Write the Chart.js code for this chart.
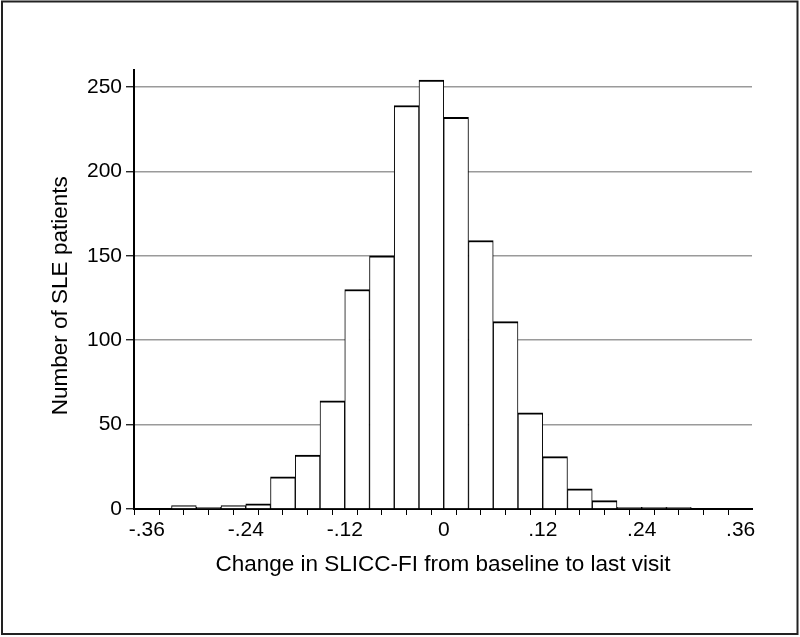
<!DOCTYPE html>
<html>
<head>
<meta charset="utf-8">
<script src="https://cdn.jsdelivr.net/npm/chart.js@4/dist/chart.umd.min.js"></script>
<style>
  html, body { margin: 0; padding: 0; background: #fff; }
  #wrap { width: 800px; height: 637px; }
</style>
</head>
<body>
<div id="wrap"><canvas id="histChart" width="800" height="637"></canvas></div>
<script>
// histogram bins (lower edge, width .03) and patient counts
const binLower = [-0.33, -0.30, -0.27, -0.24, -0.21, -0.18, -0.15, -0.12, -0.09, -0.06, -0.03,
                  0.00, 0.03, 0.06, 0.09, 0.12, 0.15, 0.18, 0.21, 0.24, 0.27];
const binWidth = 0.03;
const patientCounts = [2, 1, 2, 3, 19, 32, 64, 130, 150, 239, 254,
                       232, 159, 111, 57, 31, 12, 5, 1, 1, 1];

const xTickValues = [-0.36, -0.33, -0.30, -0.27, -0.24, -0.21, -0.18, -0.15, -0.12, -0.09, -0.06, -0.03, 0,
                     0.03, 0.06, 0.09, 0.12, 0.15, 0.18, 0.21, 0.24, 0.27, 0.30, 0.33, 0.36];
const xLabelValues = [-0.36, -0.24, -0.12, 0, 0.12, 0.24, 0.36];
const xLabels = ['-.36', '-.24', '-.12', '0', '.12', '.24', '.36'];
const yTickValues = [0, 50, 100, 150, 200, 250];

const FONT = "'Liberation Sans', Arial, Helvetica, sans-serif";

const framePlugin = {
    id: 'frame',
    beforeDraw(chart) {
        const c = chart.ctx;
        c.save();
        c.fillStyle = '#fff';
        c.fillRect(0, 0, chart.width, chart.height);
        c.restore();
    },
    afterDraw(chart) {
        const c = chart.ctx;
        c.save();
        c.strokeStyle = '#222';
        c.lineWidth = 2;
        c.strokeRect(2, 1.5, 795.5, 632.5);
        c.restore();
    }
};

document.addEventListener("DOMContentLoaded", () => {
    const canvas = document.getElementById("histChart");
    const ctx = canvas.getContext("2d");

    new Chart(ctx, {
        type: "bar",
        data: {
            datasets: [{
                data: binLower.map((lo, i) => ({ x: lo + binWidth / 2, y: patientCounts[i] })),
                backgroundColor: '#fff',
                borderColor: '#000',
                borderWidth: { top: 2, left: 1, right: 1, bottom: 0 },
                borderSkipped: false,
                barPercentage: 1,
                categoryPercentage: 1
            }]
        },
        options: {
            responsive: false,
            animation: false,
            events: [],
            layout: { padding: { left: 0, top: 70, right: 48, bottom: 0 } },
            plugins: { legend: { display: false }, tooltip: { enabled: false } },
            scales: {
                x: {
                    type: 'linear',
                    min: -0.3755,
                    max: 0.3737,
                    offset: false,
                    afterBuildTicks: (s) => { s.ticks = xTickValues.map(v => ({ value: v })); },
                    afterFit: (s) => { s.height = 128; },
                    ticks: {
                        autoSkip: false,
                        maxRotation: 0,
                        padding: 3,
                        color: '#000',
                        font: { family: FONT, size: 21 },
                        callback: (v) => {
                            const k = xLabelValues.findIndex(t => Math.abs(t - v) < 1e-6);
                            return k >= 0 ? xLabels[k] : '';
                        }
                    },
                    grid: {
                        drawOnChartArea: false,
                        drawTicks: true,
                        tickLength: 6,
                        tickColor: '#000',
                        tickWidth: 1
                    },
                    border: { color: '#000', width: 2 },
                    title: {
                        display: true,
                        text: 'Change in SLICC-FI from baseline to last visit',
                        color: '#000',
                        font: { family: FONT, size: 22.5 },
                        padding: { top: 0, bottom: 59 }
                    }
                },
                y: {
                    min: 0,
                    max: 260,
                    afterBuildTicks: (s) => { s.ticks = yTickValues.map(v => ({ value: v })); },
                    afterFit: (s) => { s.width = 134; },
                    ticks: {
                        padding: 4,
                        color: '#000',
                        font: { family: FONT, size: 21 }
                    },
                    grid: {
                        color: (c) => c.tick && c.tick.value === 0 ? 'rgba(0,0,0,0)' : '#9a9a9a',
                        lineWidth: 1.5,
                        drawTicks: true,
                        tickLength: 8,
                        tickColor: '#000',
                        tickWidth: 1.2
                    },
                    border: { color: '#000', width: 2 },
                    title: {
                        display: true,
                        text: 'Number of SLE patients  ',
                        color: '#000',
                        font: { family: FONT, size: 22.5 },
                        padding: { top: 47, bottom: 0 }
                    }
                }
            }
        },
        plugins: [framePlugin]
    });
});
</script>
</body>
</html>
